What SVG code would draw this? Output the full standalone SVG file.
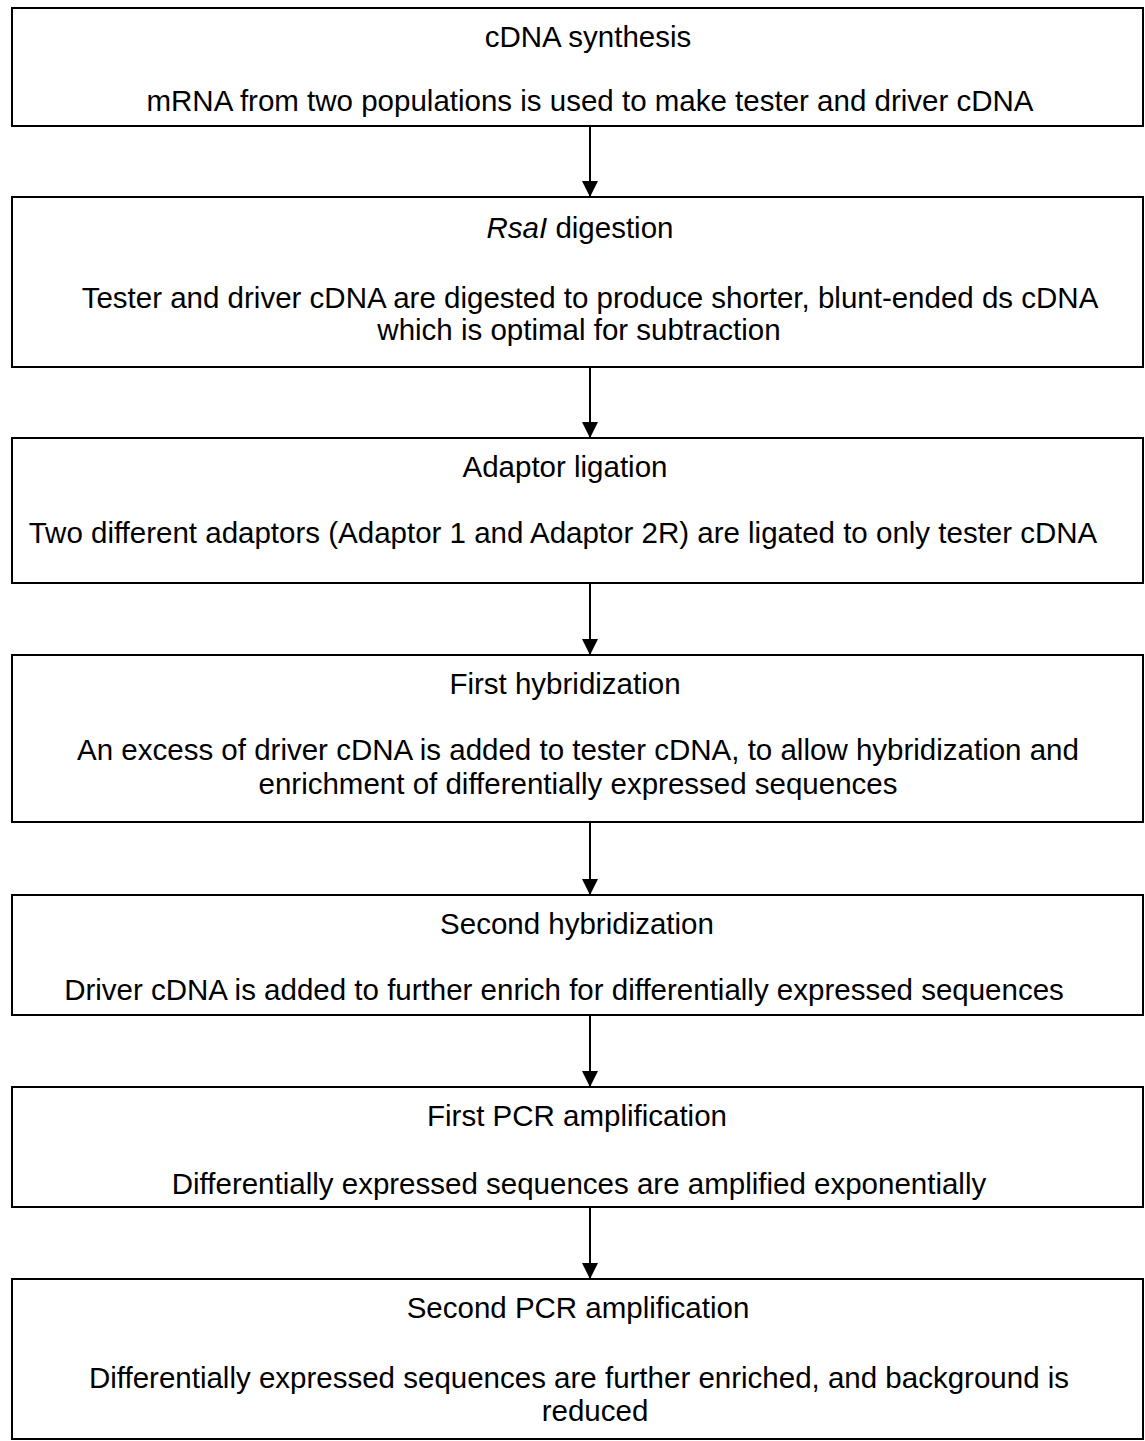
<svg xmlns="http://www.w3.org/2000/svg" width="1145" height="1441" viewBox="0 0 1145 1441">
<style>
.box{fill:#fff;stroke:#000;stroke-width:2}
text{font-family:"Liberation Sans",Arial,sans-serif;font-size:29.5px;fill:#000;text-anchor:middle}
.conn line{stroke:#000;stroke-width:2}
</style>
<defs>
<marker id="ah" markerWidth="16" markerHeight="16" refX="16" refY="8" orient="auto" markerUnits="userSpaceOnUse">
<path d="M0,0 L16,8 L0,16 Z" fill="#000"/>
</marker>
</defs>
<rect width="1145" height="1441" fill="#fff"/>
<g id="n1"><rect class="box" x="12" y="8" width="1131" height="118"/>
<text x="588" y="47">cDNA synthesis</text>
<text x="590" y="111">mRNA from two populations is used to make tester and driver cDNA</text></g>
<g id="n2"><rect class="box" x="12" y="197" width="1131" height="170"/>
<text x="580" y="238"><tspan font-style="italic">RsaI</tspan> digestion</text>
<text x="590" y="308">Tester and driver cDNA are digested to produce shorter, blunt-ended ds cDNA</text>
<text x="579" y="340">which is optimal for subtraction</text></g>
<g id="n3"><rect class="box" x="12" y="438" width="1131" height="145"/>
<text x="565" y="477">Adaptor ligation</text>
<text x="563" y="543">Two different adaptors (Adaptor 1 and Adaptor 2R) are ligated to only tester cDNA</text></g>
<g id="n4"><rect class="box" x="12" y="655" width="1131" height="167"/>
<text x="565" y="694">First hybridization</text>
<text x="578" y="760">An excess of driver cDNA is added to tester cDNA, to allow hybridization and</text>
<text x="578" y="794">enrichment of differentially expressed sequences</text></g>
<g id="n5"><rect class="box" x="12" y="895" width="1131" height="120"/>
<text x="577" y="934">Second hybridization</text>
<text x="564" y="1000">Driver cDNA is added to further enrich for differentially expressed sequences</text></g>
<g id="n6"><rect class="box" x="12" y="1087" width="1131" height="120"/>
<text x="577" y="1126">First PCR amplification</text>
<text x="579" y="1194">Differentially expressed sequences are amplified exponentially</text></g>
<g id="n7"><rect class="box" x="12" y="1279" width="1131" height="160"/>
<text x="578" y="1318">Second PCR amplification</text>
<text x="579" y="1388">Differentially expressed sequences are further enriched, and background is</text>
<text x="595" y="1421">reduced</text></g>
<g class="conn" id="connectors">
<line x1="590" y1="126" x2="590" y2="197" marker-end="url(#ah)"/>
<line x1="590" y1="367" x2="590" y2="438" marker-end="url(#ah)"/>
<line x1="590" y1="583" x2="590" y2="655" marker-end="url(#ah)"/>
<line x1="590" y1="822" x2="590" y2="895" marker-end="url(#ah)"/>
<line x1="590" y1="1015" x2="590" y2="1087" marker-end="url(#ah)"/>
<line x1="590" y1="1207" x2="590" y2="1279" marker-end="url(#ah)"/>
</g>
</svg>
